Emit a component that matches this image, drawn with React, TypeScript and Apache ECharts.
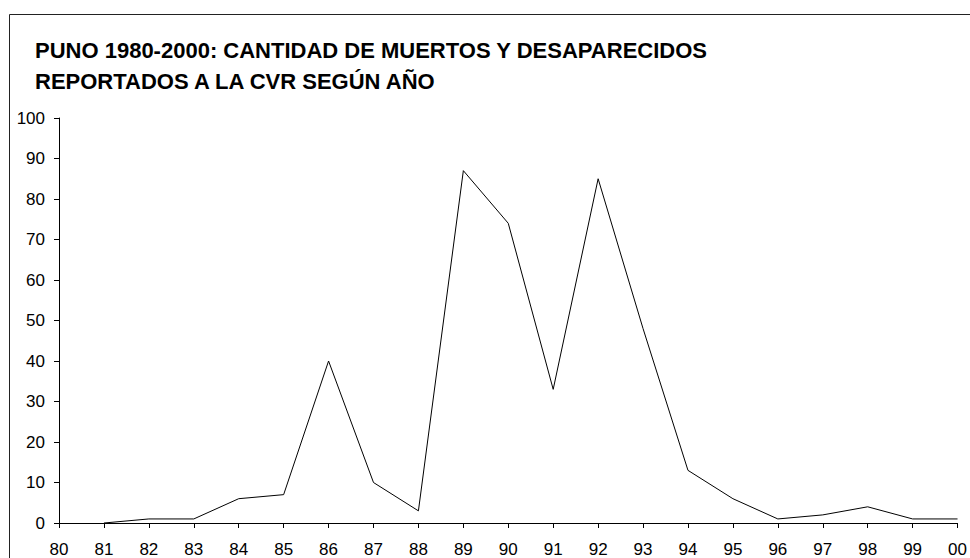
import React, { useEffect, useRef } from "react";
import * as echarts from "echarts";

const years = ["80", "81", "82", "83", "84", "85", "86", "87", "88", "89", "90", "91", "92", "93", "94", "95", "96", "97", "98", "99", "00"];
const victims: (number | null)[] = [null, 0, 1, 1, 6, 7, 40, 10, 3, 87, 74, 33, 85, 48, 13, 6, 1, 2, 4, 1, 1];
const titleLines = ["PUNO 1980-2000: CANTIDAD DE MUERTOS Y DESAPARECIDOS", "REPORTADOS A LA CVR SEGÚN AÑO"];

export default function App() {
  const ref = useRef<HTMLDivElement>(null);
  useEffect(() => {
    if (!ref.current) return;
    const chart = echarts.init(ref.current, undefined, { renderer: "svg" });
    const font = "'Liberation Sans', Arial, sans-serif";
    chart.setOption({
      animation: false,
      backgroundColor: "#fff",
      title: {
        text: titleLines.join("\n"),
        left: 35,
        top: 35,
        padding: 0,
        textStyle: { fontFamily: font, fontWeight: "bold", fontSize: 22, lineHeight: 31, color: "#000" },
      },
      graphic: [
        {
          type: "line",
          shape: { x1: 9.5, y1: 14.5, x2: 970, y2: 14.5 },
          style: { stroke: "#222", lineWidth: 1 },
          silent: true,
        },
        {
          type: "line",
          shape: { x1: 9.5, y1: 14.5, x2: 9.5, y2: 558 },
          style: { stroke: "#222", lineWidth: 1 },
          silent: true,
        },
      ],
      grid: { left: 59, right: 6, top: 118, bottom: 34, containLabel: false },
      xAxis: {
        type: "category",
        data: years,
        boundaryGap: false,
        axisLine: { lineStyle: { color: "#000", width: 1 } },
        axisTick: { show: true, length: 5, interval: 0, lineStyle: { color: "#000" } },
        axisLabel: { interval: 0, margin: 18, fontFamily: font, fontSize: 17, color: "#000" },
        splitLine: { show: false },
      },
      yAxis: {
        type: "value",
        min: 0,
        max: 100,
        interval: 10,
        axisLine: { show: true, lineStyle: { color: "#000", width: 1 } },
        axisTick: { show: true, length: 5, lineStyle: { color: "#000" } },
        axisLabel: { margin: 14, fontFamily: font, fontSize: 17, color: "#000" },
        splitLine: { show: false },
      },
      series: [
        {
          type: "line",
          data: victims,
          symbol: "none",
          lineStyle: { color: "#000", width: 1 },
          connectNulls: false,
        },
      ],
    });
    return () => chart.dispose();
  }, []);
  return <div ref={ref} style={{ position: "fixed", left: 0, top: 0, width: 970, height: 558 }} />;
}
